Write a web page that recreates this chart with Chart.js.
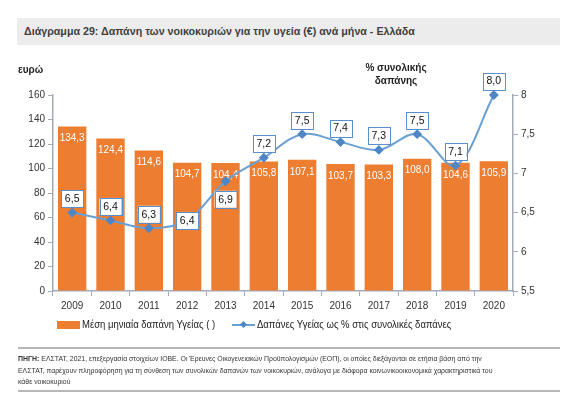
<!DOCTYPE html>
<html>
<head>
<meta charset="utf-8">
<script src="https://cdn.jsdelivr.net/npm/chart.js@4.4.1/dist/chart.umd.min.js"></script>
<style>
  body { margin: 0; background: #fff; font-family: "Liberation Sans", Arial, sans-serif; }
  #wrap { position: relative; width: 578px; height: 411px; overflow: hidden; }
  #chart { position: absolute; left: 0; top: 0; }
  .abs { position: absolute; white-space: nowrap; }
  #titlebar { left: 17px; top: 18px; width: 543px; height: 27px; background: #ececec; }
  #title { left: 24px; top: 25px; font-size: 10.7px; font-weight: bold; color: #404040; }
  #yTitle { left: 18px; top: 64px; font-size: 10px; font-weight: bold; color: #222; }
  #y1Title { left: 356px; top: 61px; width: 80px; text-align: center; font-size: 10px; font-weight: bold; color: #222; line-height: 13px; }
  .legend { top: 319px; font-size: 10px; color: #222; transform: scaleX(0.95); transform-origin: left center; }
  #footer { left: 18px; top: 347px; width: 542px; height: 41px; border-top: 2px solid #b8b8b8; border-bottom: 2px solid #b8b8b8; }
  #footText { left: 18px; top: 353px; font-size: 6.9px; line-height: 11.6px; color: #333; }
</style>
</head>
<body>
<div id="wrap">
  <canvas id="chart" width="578" height="411"></canvas>
  <div class="abs" id="titlebar"></div>
  <div class="abs" id="title">Διάγραμμα 29: Δαπάνη των νοικοκυριών για την υγεία (€) ανά μήνα - Ελλάδα</div>
  <div class="abs" id="yTitle">ευρώ</div>
  <div class="abs" id="y1Title">% συνολικής<br>δαπάνης</div>
  <div class="abs" style="left:57px;top:321px;width:23px;height:8px;background:#ed7d31"></div>
  <div class="abs legend" style="left:82px">Μέση μηνιαία δαπάνη Υγείας ( )</div>
  <div class="abs" style="left:232px;top:324px;width:23px;height:2px;background:#6a9fd4"></div>
  <div class="abs" style="left:241px;top:322px;width:5px;height:5px;background:#4f86c6;transform:rotate(45deg)"></div>
  <div class="abs legend" style="left:257px">Δαπάνες Υγείας ως % στις συνολικές δαπάνες</div>
  <div class="abs" id="footer"></div>
  <div class="abs" id="footText"><b>ΠΗΓΗ:</b> ΕΛΣΤΑΤ, 2021, επεξεργασία στοιχείων ΙΟΒΕ. Οι Έρευνες Οικογενειακών Προϋπολογισμών (ΕΟΠ), οι οποίες διεξάγονται σε ετήσια βάση από την<br>ΕΛΣΤΑΤ, παρέχουν πληροφόρηση για τη σύνθεση των συνολικών δαπανών των νοικοκυριών, ανάλογα με διάφορα κοινωνικοοικονομικά χαρακτηριστικά του<br>κάθε νοικοκυριού</div>
</div>
<script>
// data
const years = ['2009', '2010', '2011', '2012', '2013', '2014', '2015', '2016', '2017', '2018', '2019', '2020'];
const monthlySpend = [134.3, 124.4, 114.6, 104.7, 104.4, 105.8, 107.1, 103.7, 103.3, 108.0, 104.6, 105.9];
const sharePct = [6.5, 6.4, 6.3, 6.4, 6.9, 7.2, 7.5, 7.4, 7.3, 7.5, 7.1, 8.0];
const euroTicks = [0, 20, 40, 60, 80, 100, 120, 140, 160];
const pctTicks = [5.5, 6, 6.5, 7, 7.5, 8];

// where the % boxes sit relative to their point
const boxPlace = ['up', 'up', 'up', 'on', 'down', 'up', 'up', 'up', 'up', 'up', 'up', 'up'];

const axisCol = '#a3abb8';
const txtCol = '#333';
const fnt = { family: '"Liberation Sans", Arial, sans-serif', size: 10 };
const comma = v => String(v).replace('.', ',');

const labelsPlugin = {
  id: 'valueLabels',
  afterDatasetDraw(chart, args) {
    if (args.index !== 0) return;
    const ctx = chart.ctx;
    ctx.save();
    ctx.font = '10px "Liberation Sans", Arial, sans-serif';
    ctx.fillStyle = '#fff';
    ctx.textAlign = 'center';
    ctx.textBaseline = 'middle';
    args.meta.data.forEach((bar, i) => {
      ctx.fillText(monthlySpend[i].toFixed(1).replace('.', ','), bar.x, bar.y + 12);
    });
    ctx.restore();
  },
  afterDatasetsDraw(chart) {
    const ctx = chart.ctx;
    const meta = chart.getDatasetMeta(1);
    ctx.save();
    ctx.font = '10.5px "Liberation Sans", Arial, sans-serif';
    ctx.textAlign = 'center';
    ctx.textBaseline = 'middle';
    meta.data.forEach((pt, i) => {
      let y = pt.y - 14;
      if (boxPlace[i] === 'on') y = pt.y;
      if (boxPlace[i] === 'down') y = pt.y + 18;
      const w = 22, h = 17;
      ctx.fillStyle = '#fff';
      ctx.fillRect(pt.x - w / 2, y - h / 2, w, h);
      ctx.strokeStyle = '#5b8fc9';
      ctx.lineWidth = 1;
      ctx.strokeRect(Math.round(pt.x - w / 2) + 0.5, Math.round(y - h / 2) + 0.5, w, h);
      ctx.fillStyle = '#111';
      ctx.fillText(sharePct[i].toFixed(1).replace('.', ','), pt.x, y + 0.5);
    });
    ctx.restore();
  }
};

new Chart(document.getElementById('chart'), {
  type: 'bar',
  data: {
    labels: years,
    datasets: [{
      label: 'Μέση μηνιαία δαπάνη Υγείας ( )',
      data: monthlySpend,
      backgroundColor: '#ed7d31',
      yAxisID: 'y',
      barPercentage: 0.74,
      categoryPercentage: 1,
      order: 2
    }, {
      type: 'line',
      label: 'Δαπάνες Υγείας ως % στις συνολικές δαπάνες',
      data: sharePct,
      borderColor: '#6a9fd4',
      borderWidth: 2,
      tension: 0.35,
      pointStyle: 'rectRot',
      pointRadius: 3.5,
      pointBackgroundColor: '#4f86c6',
      pointBorderColor: '#4f86c6',
      yAxisID: 'y1',
      clip: false,
      order: 1
    }]
  },
  options: {
    responsive: false,
    animation: false,
    layout: { padding: { top: 95 } },
    plugins: { legend: { display: false }, tooltip: { enabled: false } },
    scales: {
      x: {
        grid: { offset: true, drawOnChartArea: false, tickLength: 5, color: axisCol },
        border: { color: axisCol, width: 1.5 },
        ticks: { font: fnt, color: txtCol, padding: 4 },
        afterFit(s) { s.height = 120; }
      },
      y: {
        position: 'left',
        min: euroTicks[0],
        max: euroTicks[euroTicks.length - 1],
        afterBuildTicks(s) { s.ticks = euroTicks.map(v => ({ value: v })); },
        grid: { drawOnChartArea: false, tickLength: 5, color: axisCol },
        border: { color: axisCol, width: 1.5 },
        ticks: { font: fnt, color: txtCol, padding: 3 },
        afterFit(s) { s.width = 53; }
      },
      y1: {
        position: 'right',
        min: pctTicks[0],
        max: pctTicks[pctTicks.length - 1],
        afterBuildTicks(s) { s.ticks = pctTicks.map(v => ({ value: v })); },
        grid: { drawOnChartArea: false, tickLength: 5, color: axisCol },
        border: { color: axisCol, width: 1.5 },
        ticks: { font: fnt, color: txtCol, padding: 3, callback: v => comma(v) },
        afterFit(s) { s.width = 65; }
      }
    }
  },
  plugins: [labelsPlugin]
});
</script>
</body>
</html>
